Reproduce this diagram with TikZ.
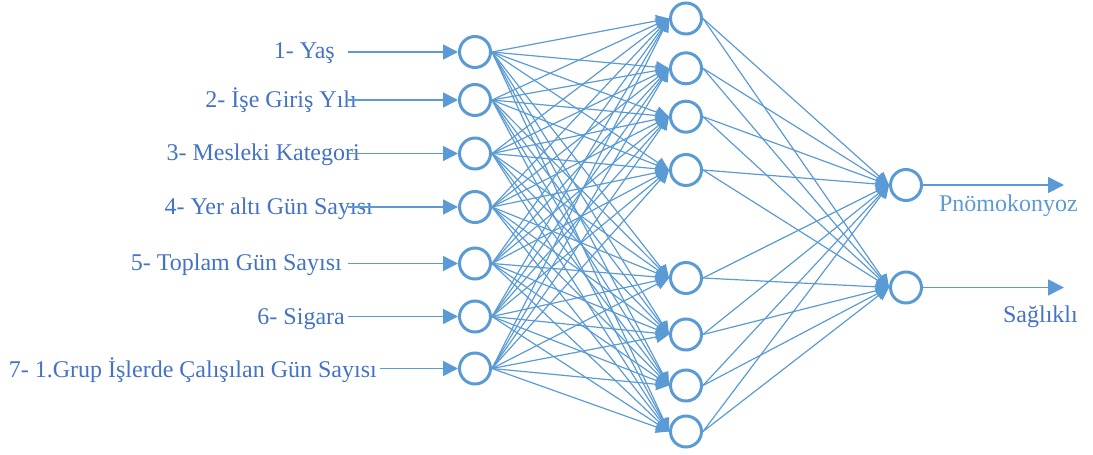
\documentclass[tikz,border=0pt]{standalone}
\usepackage{fontspec}
\setmainfont{Liberation Serif}
\usetikzlibrary{arrows.meta}
\definecolor{nnblue}{HTML}{5B9BD5}
\definecolor{txtblue}{HTML}{4472C4}
\begin{document}
\begin{tikzpicture}[x=1pt,y=-1pt,
  neuron/.style={circle,draw=nnblue,fill=white,line width=3pt,minimum size=31pt,inner sep=0pt},
  conn/.style={nnblue,line width=1.2pt,-{Triangle[length=13pt,width=12pt]}},
  inarrow/.style={nnblue,line width=1.7pt,-{Triangle[length=15pt,width=15pt]}},
  lbl/.style={text=txtblue,font=\fontsize{24}{28}\selectfont,inner sep=0pt}]
\useasboundingbox (0,0) rectangle (1093,455);
% input layer
\foreach \n/\y in {1/52,2/100,3/153.5,4/207,5/263.5,6/316.5,7/368.5}{
  \node[neuron] (i\n) at (475,\y) {};
  \coordinate (s\n) at (348,\y);
}
% hidden layer
\foreach \n/\y in {1/18.5,2/68.3,3/116.7,4/170,5/278,6/334.5,7/385.5,8/431.5}
  \node[neuron] (h\n) at (686,\y) {};
% output layer
\node[neuron] (o1) at (906,185) {};
\node[neuron] (o2) at (906,287.5) {};
\coordinate (e1) at (1064,185);
\coordinate (e2) at (1064,287.5);
% input labels
\node[lbl,anchor=base east] (l1) at (335,58.5) {1- Yaş};
\node[lbl,anchor=base east] (l2) at (357,107) {2- İşe Giriş Yılı};
\node[lbl,anchor=base east] (l3) at (360,160.5) {3- Mesleki Kategori};
\node[lbl,anchor=base east] (l4) at (373,214) {4- Yer altı Gün Sayısı};
\node[lbl,anchor=base east] (l5) at (342,270.5) {5- Toplam Gün Sayısı};
\node[lbl,anchor=base east] (l6) at (345,324) {6- Sigara};
\node[lbl,anchor=base east] (l7) at (377,377.5) {7- 1.Grup İşlerde Çalışılan Gün Sayısı};
% output labels
\node[lbl,text=nnblue,anchor=base east] (p1) at (1078,211) {Pnömokonyoz};
\node[lbl,anchor=base east] (p2) at (1078,322) {Sağlıklı};
% input arrows
\foreach \n in {1,...,6} \draw[inarrow] (s\n) -- (i\n.west);
\coordinate (s7b) at (380,368.5);
\draw[inarrow] (s7b) -- (i7.west);
% input -> hidden
\foreach \a in {1,...,7}
  \foreach \b in {1,...,8}
    \draw[conn] (i\a.east) -- (h\b.west);
% hidden -> output
\foreach \b in {1,...,8}
  \foreach \c in {1,2}
    \draw[conn] (h\b.east) -- (o\c.west);
% output arrows
\draw[inarrow,-{Triangle[length=16pt,width=16pt]}] (o1.east) -- (e1);
\draw[inarrow,-{Triangle[length=16pt,width=16pt]}] (o2.east) -- (e2);
\end{tikzpicture}
\end{document}
